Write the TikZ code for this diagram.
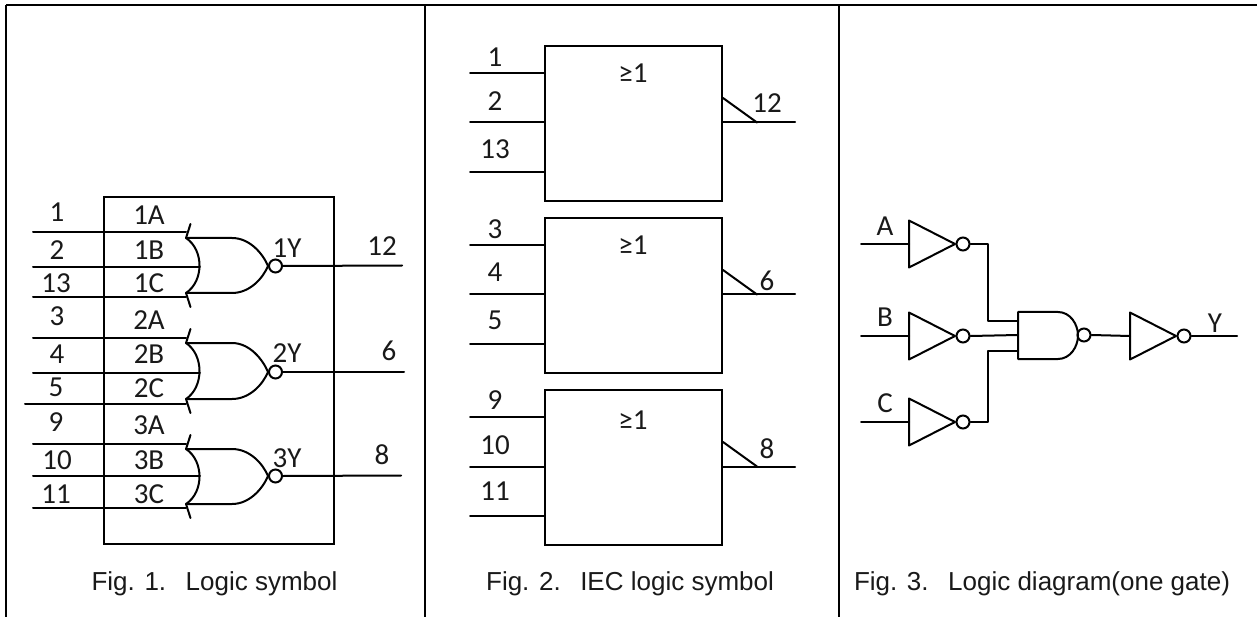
\documentclass[tikz,border=0pt]{standalone}
\usepackage{fontspec}
\setmainfont{Carlito}
\newfontfamily\capfont{Liberation Sans}
\tikzset{
  x=1pt,y=-1pt,
  wire/.style={line width=2pt,line cap=round,line join=round},
  frameline/.style={line width=2.2pt},
  lbl/.style={inner sep=0pt,font=\fontsize{29}{29}\selectfont,text=black!90},
  figcap/.style={inner sep=0pt,font=\capfont\fontsize{26}{27}\selectfont,text=black!90},
  bub/.style={circle,draw,line width=2pt,minimum size=13pt,inner sep=0pt},
  boxn/.style={rectangle,draw,line width=2pt,inner sep=0pt},
}
\newcommand{\orgate}[7]{%
 \coordinate (#1t) at (186,#5);
 \coordinate (#1b) at (186,#6);
 \coordinate (#1m) at (200,#3);
 \draw[wire] (#1t) .. controls (204,#5+12) and (204,#6-12) .. (#1b);
 \draw[wire] (#1t) -- (190.5,#5-14);
 \draw[wire] (#1b) -- (190.5,#6+14);
 \node[bub] (#1o) at (275.5,#7) {};
 \draw[wire] (#1t) -- (232,#5) .. controls (250,#5) and (263,#7-12) .. (#1o.west);
 \draw[wire] (#1b) -- (232,#6) .. controls (250,#6) and (263,#7+12) .. (#1o.west);
}
\newcommand{\iecbox}[3]{%
 \node[boxn,minimum width=177pt,minimum height=155pt] (#1) at (633.5,#2+77.5) {};
 \node[lbl] (#1ge) at (633,#3) {≥1};
 \coordinate (#1i) at (470,#2+27);
 \coordinate (#1j) at (470,#2+76.5);
 \coordinate (#1k) at (470,#2+126);
 \coordinate (#1o) at (795,#2+76.5);
 \coordinate (#1s) at (723,#2+52);
 \coordinate (#1e) at (757,#2+76.5);
 \draw[wire] (#1i) -- (#1i -| #1.west);
 \draw[wire] (#1j) -- (#1j -| #1.west);
 \draw[wire] (#1k) -- (#1k -| #1.west);
 \draw[wire] (#1o) -- (#1o -| #1.east);
 \draw[wire] (#1s) -- (#1e);
}
\newcommand{\inverter}[3]{%
 \coordinate (#1a) at (#2,#3-23.5);
 \coordinate (#1c) at (#2,#3+23.5);
 \coordinate (#1i) at (#2,#3);
 \coordinate (#1p) at (#2+46,#3);
 \draw[wire] (#1a) -- (#1c) -- (#1p) -- cycle;
 \node[bub] (#1o) at (#2+54,#3) {};
}
\begin{document}
\begin{tikzpicture}
\useasboundingbox (0,0) rectangle (1257,617);
% frame
\coordinate (fl) at (6,5); \coordinate (fa) at (425,5); \coordinate (fb) at (839,5); \coordinate (fr) at (1257,5);
\draw[frameline] (fl) -- (fr);
\foreach \c in {fl,fa,fb} \draw[frameline] (\c) -- (\c |- 0,617);
% Fig 1
\node[boxn,minimum width=230pt,minimum height=347pt] (lsbox) at (219,370.5) {};
\orgate{ga}{232.5}{266}{297}{238}{293}{266}
\orgate{gb}{338}{372}{403.5}{343}{399}{372}
\orgate{gc}{443.5}{476}{508}{449}{504}{476}
\foreach \n/\xa/\ya/\xb/\yb in {p1/33/232.5/186/232.5, p2/33/267/200/267, p3/33/297/186/297,
  p4/33/338/186/338, p5/33/372.5/200/372.5, p6/25/403.5/186/403.5,
  p7/33/443.5/186/443.5, p8/33/476/200/476, p9/33/508/186/508}{
  \coordinate (\n s) at (\xa,\ya); \coordinate (\n e) at (\xb,\yb);
  \draw[wire] (\n s) -- (\n e);}
\coordinate (oa) at (402,265.5); \coordinate (ob) at (404,372); \coordinate (oc) at (401,475.5);
\draw[wire] (gao.east) -- (oa);
\draw[wire] (gbo.east) -- (ob);
\draw[wire] (gco.east) -- (oc);
\foreach \n/\x/\y/\t in {a1/57/212/1,a2/57/250/2,a3/56/283/13,a4/57/316/3,a5/57/354/4,a6/56/387/5,a7/56/422/9,a8/57/460/10,a9/56/494/11,
  b1/149/215/1A,b2/149/250/1B,b3/149/283/1C,b4/149/320/2A,b5/149/354/2B,b6/149/388/2C,b7/149/425/3A,b8/149/460/3B,b9/149/494/3C,
  y1/287/248/1Y,y2/287/353/2Y,y3/287/458/3Y,z1/382/246/12,z2/389/351/6,z3/382/455/8}
  \node[lbl] (\n) at (\x,\y) {\t};
\node[figcap] (cap1) at (214.5,584) {Fig. 1.\hspace{0.75em}Logic symbol};
% Fig 2
\iecbox{ba}{46}{73}
\iecbox{bb}{218}{245}
\iecbox{bc}{390}{420}
\foreach \n/\x/\y/\t in {c1/495/57/1,c2/495/101/2,c3/495/149/13,c4/495/229/3,c5/495/272/4,c6/495/320/5,c7/495/400/9,c8/495/445/10,c9/495/491/11,
  d1/767/103/12,d2/767/281/6,d3/767/449/8}
  \node[lbl] (\n) at (\x,\y) {\t};
\node[figcap] (cap2) at (630,584) {Fig. 2.\hspace{0.75em}IEC logic symbol};
% Fig 3
\inverter{ia}{909}{244}
\inverter{ib}{909}{336}
\inverter{ic}{909}{422}
\inverter{id}{1130}{336}
\coordinate (ina) at (861,244); \coordinate (inb) at (861,336); \coordinate (inc) at (861,422); \coordinate (oy) at (1237,336);
\draw[wire] (ina) -- (iai);
\draw[wire] (inb) -- (ibi);
\draw[wire] (inc) -- (ici);
\coordinate (na) at (1018,312); \coordinate (nb) at (1018,359);
\draw[wire] (na) -- (1058,312) .. controls (1070,312) and (1078,324) .. (1078,335.5) .. controls (1078,347) and (1070,359) .. (1058,359) -- (nb) -- cycle;
\node[bub] (nbub) at (1084,335) {};
\coordinate (n1) at (1018,321); \coordinate (n2) at (1018,335); \coordinate (n3) at (1018,351);
\draw[wire] (iao.east) -- (988,244) -- (988,321) -- (n1);
\draw[wire] (ibo.east) -- (n2);
\draw[wire] (ico.east) -- (988,422) -- (988,351) -- (n3);
\draw[wire] (nbub.east) -- (idi);
\draw[wire] (ido.east) -- (oy);
\foreach \n/\x/\y/\t in {la/885/226/A,lb/885/317/B,lc/885/403/C,ly/1215/323/Y}
  \node[lbl] (\n) at (\x,\y) {\t};
\node[figcap] (cap3) at (1042,584) {Fig. 3.\hspace{0.75em}Logic diagram(one gate)};
\end{tikzpicture}
\end{document}
